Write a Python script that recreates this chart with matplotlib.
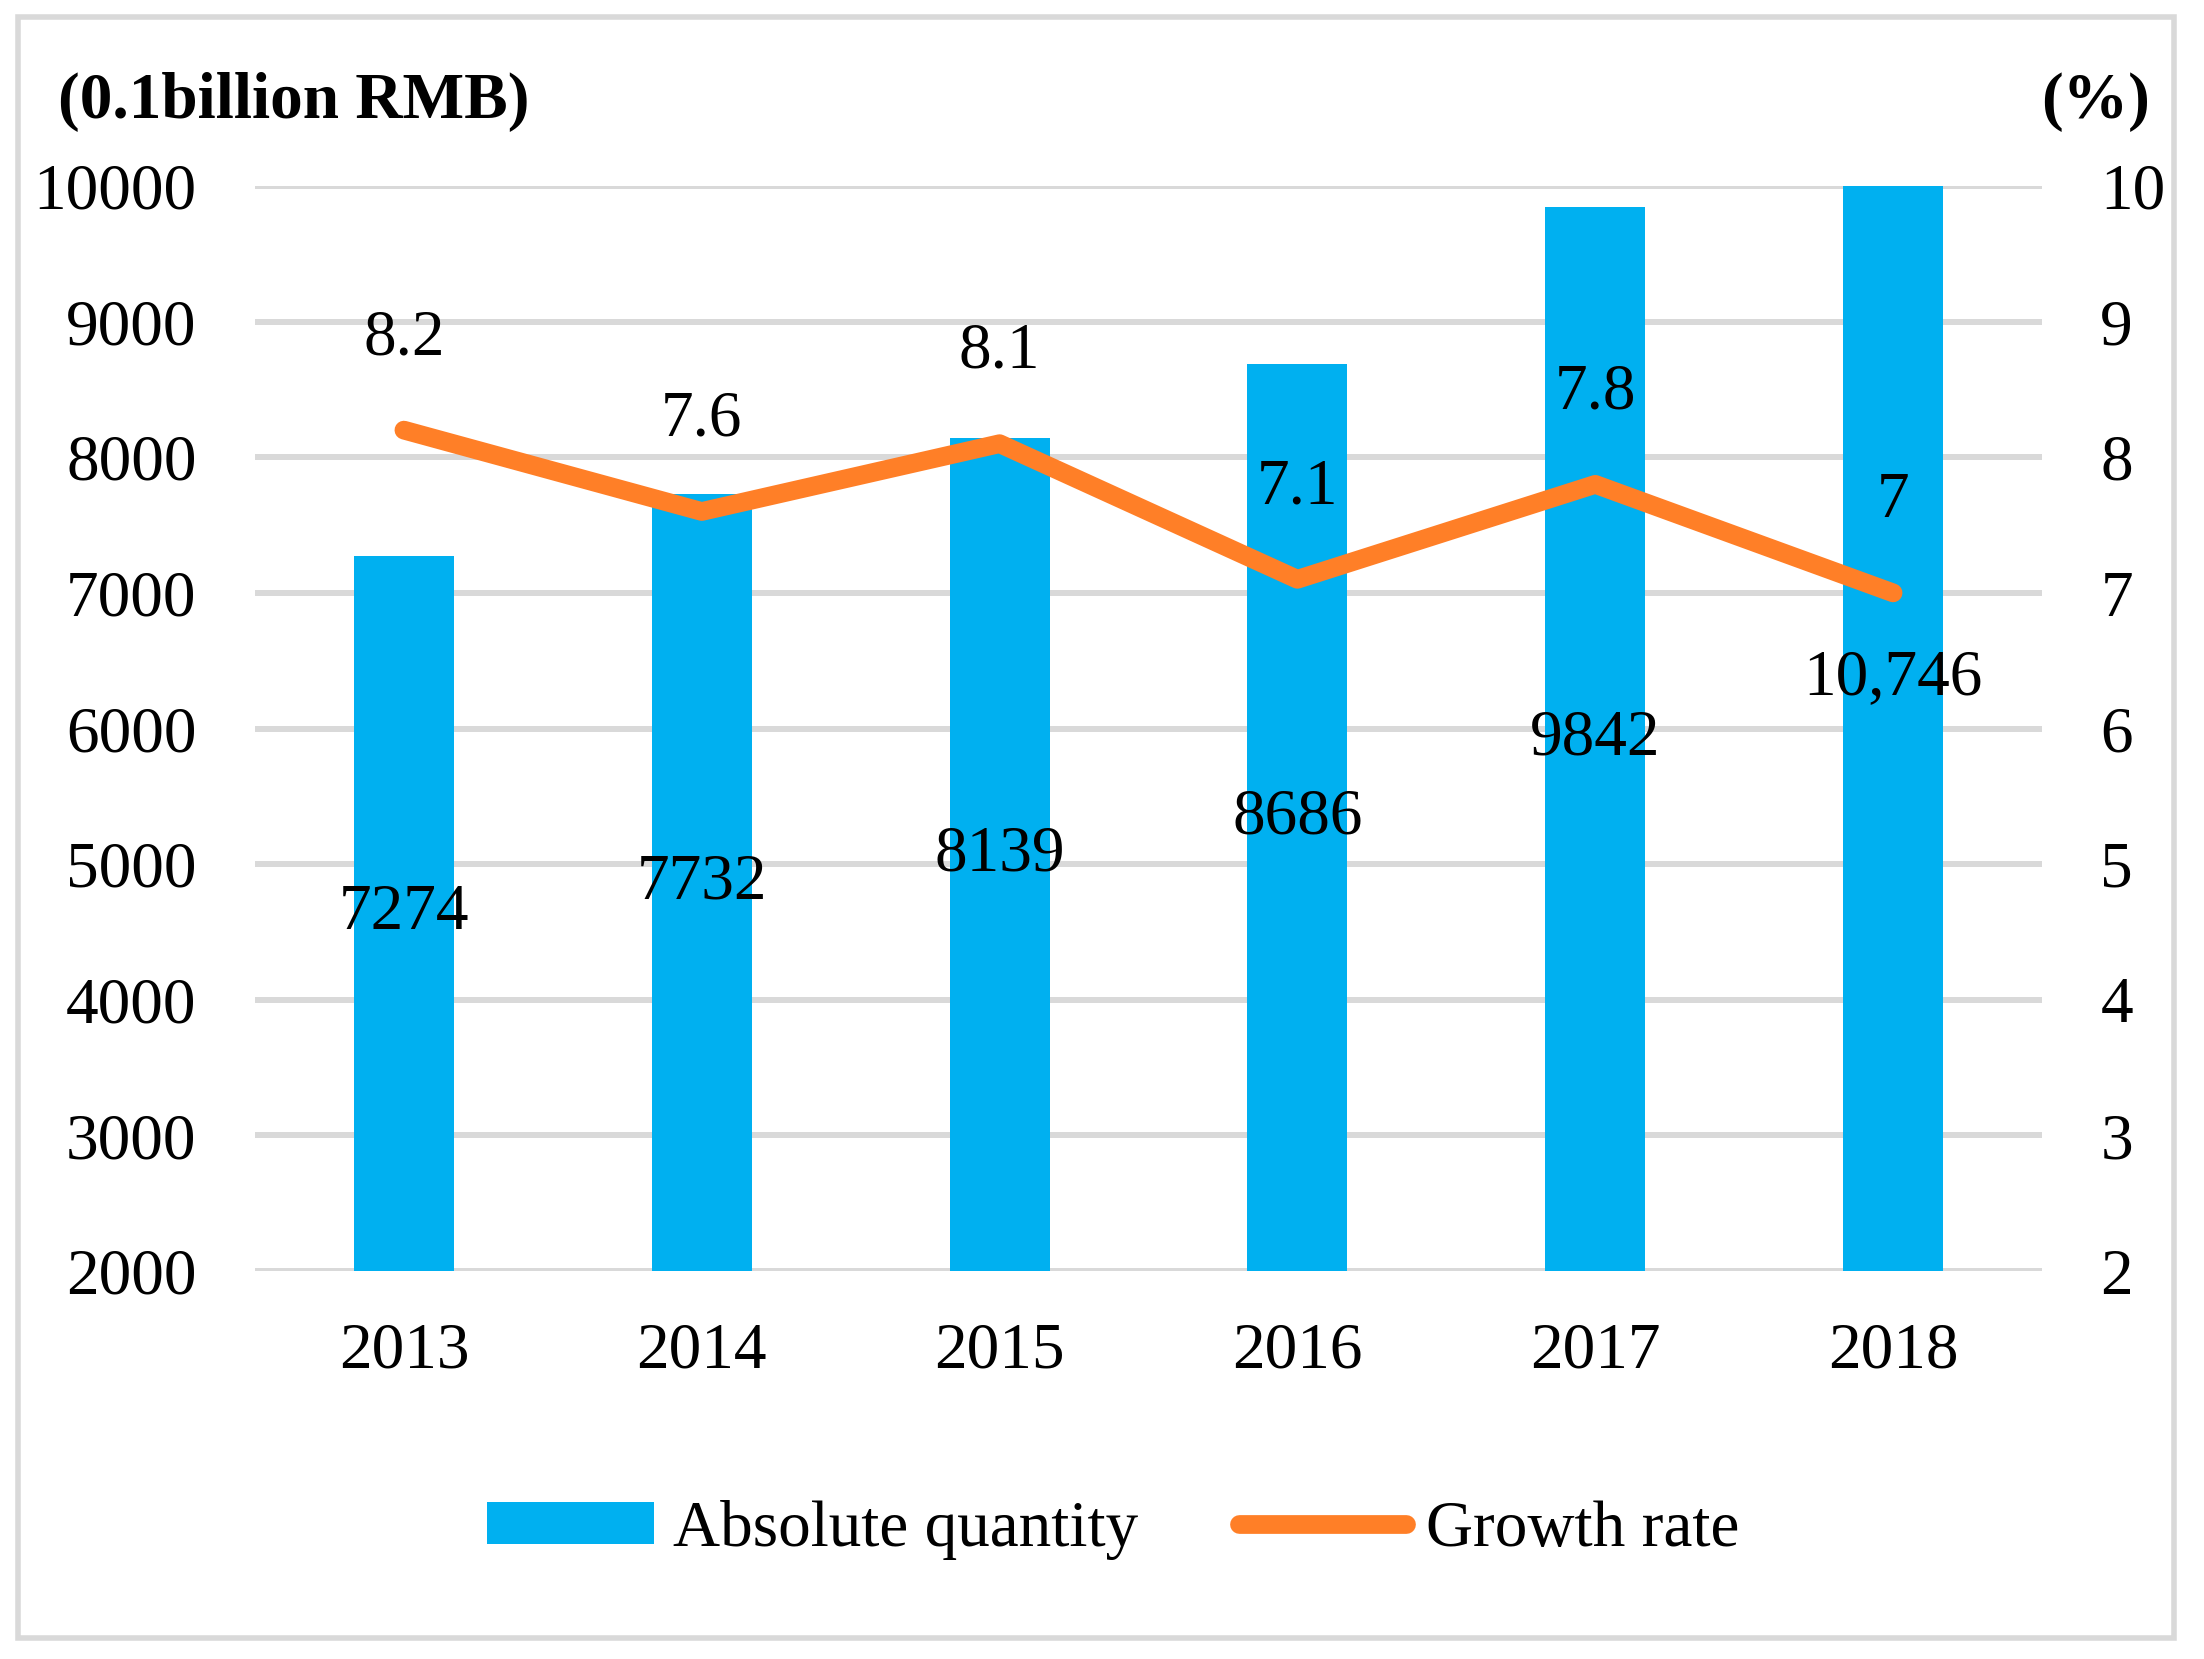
import matplotlib
matplotlib.use("Agg")
import matplotlib.pyplot as plt
from matplotlib.patches import Patch, Rectangle
from matplotlib.lines import Line2D

plt.rcParams['font.family'] = ['Liberation Serif', 'DejaVu Serif']

# Data
years = ['2013', '2014', '2015', '2016', '2017', '2018']
absolute_quantity = [7274, 7732, 8139, 8686, 9842, 10746]
bar_labels = ['7274', '7732', '8139', '8686', '9842', '10,746']
growth_rate = [8.2, 7.6, 8.1, 7.1, 7.8, 7.0]
rate_labels = ['8.2', '7.6', '8.1', '7.1', '7.8', '7']

BLUE = '#00B0F0'
ORANGE = '#FF7F27'
GRID = '#D9D9D9'
FS = 47

W, H = 2204, 1659
fig = plt.figure(figsize=(W / 100, H / 100), dpi=100)

# outer grey frame
fig.patches.append(Rectangle((18 / W, 1 - 1638 / H), (2174 - 18) / W, (1638 - 17) / H,
                             transform=fig.transFigure, fill=False,
                             edgecolor=GRID, linewidth=4))

ax = fig.add_axes([255 / W, 1 - 1271 / H, (2042 - 255) / W, (1271 - 186) / H])
x = list(range(len(years)))
ymin, ymax = 2000, 10000

ax.bar(x, [v - ymin for v in absolute_quantity], bottom=ymin, width=0.336,
       color=BLUE, zorder=2)
for xi, v, lab in zip(x, absolute_quantity, bar_labels):
    ax.text(xi, (v + ymin) / 2, lab, ha='center', va='center', fontsize=FS, zorder=5)

ax.set_xlim(-0.5, len(years) - 0.5)
ax.set_ylim(ymin, ymax)
ax.set_yticks(range(2000, 10001, 1000))
ax.set_xticks(x)
ax.set_xticklabels(years)
ax.grid(axis='y', color=GRID, linewidth=4.3, zorder=0)
ax.set_axisbelow(True)
for s in ax.spines.values():
    s.set_visible(False)
ax.tick_params(axis='y', length=0, pad=42, labelsize=FS)
ax.tick_params(axis='x', length=0, pad=37, labelsize=FS)

ax2 = ax.twinx()
ax2.plot(x, growth_rate, color=ORANGE, linewidth=13.5, solid_capstyle='round',
         solid_joinstyle='round', zorder=3)
for xi, r, lab in zip(x, growth_rate, rate_labels):
    ax2.annotate(lab, (xi, r), xytext=(0, 66), textcoords='offset points',
                 ha='center', va='center', fontsize=FS)
ax2.set_ylim(2, 10)
ax2.set_yticks(range(2, 11))
for s in ax2.spines.values():
    s.set_visible(False)
ax2.tick_params(axis='y', length=0, pad=42, labelsize=FS)

# unit captions
fig.text(58 / W, 1 - 102 / H, '(0.1billion RMB)', ha='left', va='center',
         fontsize=47, fontweight='bold')
fig.text(2150 / W, 1 - 102 / H, '(%)', ha='right', va='center',
         fontsize=47, fontweight='bold')

handles = [Patch(facecolor=BLUE, edgecolor='none'),
           Line2D([], [], color=ORANGE, linewidth=13.5, solid_capstyle='round')]
fig.legend(handles, ['Absolute quantity', 'Growth rate'], loc='center',
           bbox_to_anchor=(0.505, 1 - 1530 / H), ncol=2, frameon=False,
           fontsize=FS, handlelength=2.55, handleheight=0.63,
           handletextpad=0.3, columnspacing=1.55)

fig.savefig('out.png', dpi=100)
